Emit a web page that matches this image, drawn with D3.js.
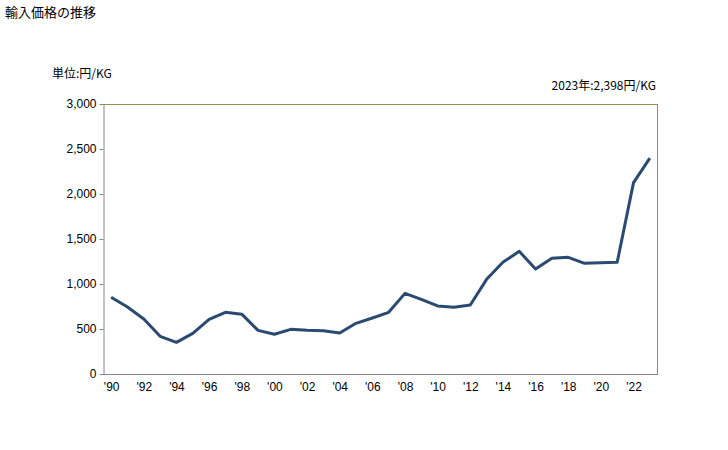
<!DOCTYPE html>
<html><head><meta charset="utf-8">
<script src="https://cdn.jsdelivr.net/npm/d3@7"></script>
<style>body{margin:0;background:#fff;} text{font-family:"Noto Sans CJK JP","Noto Sans",sans-serif;}</style>
</head><body>
<svg id="c" width="728" height="450"></svg>
<script>
const years = d3.range(1990, 2024);
const values = [852, 745, 611, 419, 352, 452, 607, 685, 665, 485, 441, 496, 485, 481, 455, 563, 622, 685, 896,
  830, 756, 741, 767, 1052, 1241, 1363, 1167, 1285, 1296, 1230, 1237, 1241, 2126, 2398];
const yTicks = [0, 500, 1000, 1500, 2000, 2500, 3000];
const xTickYears = years.filter(y => y % 2 === 0);

const svg = d3.select("#c");
const L = 103, R = 658, T = 104, B = 374;
const x = d3.scalePoint().domain(years).range([L, R]).padding(0.5);
const y = d3.scaleLinear().domain([0, 3000]).range([B, T]);

svg.append("text").attr("x", 5).attr("y", 17).attr("font-size", 13).attr("fill", "#000").text("輸入価格の推移");
svg.append("text").attr("x", 52).attr("y", 78).attr("font-size", 12).attr("fill", "#000").text("単位:円/KG");
svg.append("text").attr("x", 656).attr("y", 90).attr("font-size", 12).attr("text-anchor", "end").attr("fill", "#000").text("2023年:2,398円/KG");

// frame
svg.append("line").attr("x1", L).attr("x2", R).attr("y1", T + 0.5).attr("y2", T + 0.5).attr("stroke", "#9a8d4e");
svg.append("line").attr("x1", R - 0.5).attr("x2", R - 0.5).attr("y1", T).attr("y2", B).attr("stroke", "#9a8d4e");

const ya = svg.append("g").attr("transform", `translate(${L + 0.5},0)`)
  .call(d3.axisLeft(y).tickValues(yTicks).tickSize(4).tickSizeOuter(0).tickFormat(d3.format(",")));
ya.select(".domain").attr("stroke", "#888");
ya.selectAll(".tick line").attr("stroke", "#888");
ya.selectAll("text").attr("font-size", 12).attr("fill", "#000").attr("x", -7)
  .style("font-family", "'Liberation Sans', Arial, sans-serif");

const xa = svg.append("g").attr("transform", `translate(0,${B + 0.5})`)
  .call(d3.axisBottom(x).tickValues(xTickYears).tickSize(0).tickSizeOuter(0)
    .tickFormat(d => "'" + String(d).slice(2)));
xa.select(".domain").attr("stroke", "#888").attr("d", `M${L},0H${R}`);
xa.selectAll("text").attr("font-size", 12).attr("fill", "#000").attr("dy", "1.1em")
  .style("font-family", "'Liberation Sans', Arial, sans-serif");

const line = d3.line().x((d, i) => x(years[i])).y(d => y(d));
svg.append("path").datum(values).attr("d", line).attr("fill", "none")
  .attr("stroke", "#2a4a72").attr("stroke-width", 3).attr("stroke-linejoin", "round");
</script>
</body></html>
